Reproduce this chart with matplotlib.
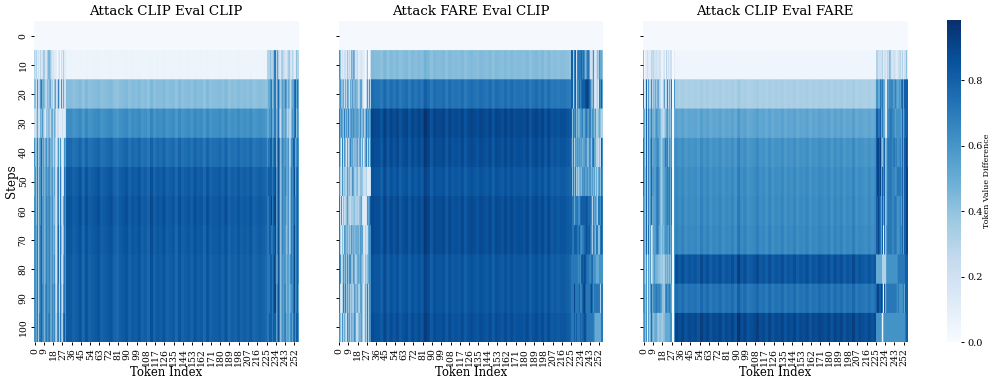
import numpy as np
import matplotlib
matplotlib.use("Agg")
import matplotlib.pyplot as plt

plt.rcParams['font.family'] = 'DejaVu Serif'

titles = ["Attack CLIP Eval CLIP", "Attack FARE Eval CLIP", "Attack CLIP Eval FARE"]
step_labels = [0, 10, 20, 30, 40, 50, 60, 70, 80, 90, 100]
token_ticks = list(range(0, 256, 9))

# level of the central token block (columns 31..224), one value per step row
mid_levels_a = [0.01, 0.05, 0.42, 0.62, 0.75, 0.81, 0.83, 0.82, 0.81, 0.81, 0.81]
mid_levels_b = [0.01, 0.42, 0.72, 0.87, 0.85, 0.82, 0.85, 0.85, 0.82, 0.82, 0.84]
mid_levels_c = [0.01, 0.04, 0.33, 0.52, 0.60, 0.62, 0.63, 0.64, 0.83, 0.72, 0.87]

# streak texture of the central block, read every 3 tokens (4 = neutral)
texture_a = "5534626345634563245635463427354634526345364526344536243534352343233"
texture_b = "6553736463563646497365563645463565465463654646455463564636343443233"
texture_c = "6463545374635463546394634574536354635463546354654636463547354353523"

# edge columns as digit strings: one digit per token, value = digit / 10
left_a = [
    "0000000000000000000000000000000",
    "3231213124312454312111012021311",
    "4426236745423527241362273162522",
    "2235225463215261462541221112112",
    "6447356846366375462531362621265",
    "5647366846466575473631572731276",
    "6647366856467576474531572732576",
    "6657367856467576474631582742476",
    "6657367856467576474731582732576",
    "6657367866477576475741672742676",
    "6657377866477586475742673743786",
]
right_a = [
    "0000000000000000000000000000000",
    "3334334772622143221234213211433",
    "4556745773684356467355245578575",
    "5566755774683256456243246578465",
    "6778867884796367566473366885676",
    "7888878895796367576473476795786",
    "7788978995796367575473476786786",
    "7788778895796367574473476796786",
    "7778878985696366574564676796786",
    "7778878995796366584564566796785",
    "7788878885796366585564675786886",
]
left_b = [
    "0000000000000000000000000000000",
    "6412122141316272131112111014002",
    "5644525264163726453256311026263",
    "7565474647366574656374463475656",
    "7417264161574626273471613572636",
    "6326343363524743353244422231112",
    "7261423463324344242446211116568",
    "7314265453537363646365621322566",
    "7623646373763473346465431434566",
    "7213747363625247264256412537366",
    "6426353274626357323546412537366",
]
right_b = [
    "0000000000000000000000000000000",
    "8837817777868547772217212436554",
    "8837827686888899987537212317685",
    "8476746456674677568466463345433",
    "7473656565646575367368553324286",
    "8474735355475747557464635356476",
    "8775777668888889787817565377687",
    "8778887786677889797727647744787",
    "7777777676988987776786665556666",
    "7779777786789977777986777777377",
    "7778787778788987777777655555577",
]
left_c = [
    "0000000000000000000000000000000",
    "4011211132312212210120312122001",
    "7128162371536173311262272537006",
    "5538274574546655533234564546005",
    "7538274684656675534557674656006",
    "7548274685656776534556676757006",
    "6548274684656776534556676757006",
    "6548283604656775535456665756006",
    "6536063604564544434335454546006",
    "6646063684767767664436766765006",
    "5646063584455534443445555566006",
]
right_c = [
    "0000000000000000000000000000000",
    "3322223122132531222112231312241",
    "6655767551175767657655657858888",
    "8877857551176777675666665857888",
    "8998954683577777686766675858898",
    "8998958683577777676677776858899",
    "8898758583577777677766675858899",
    "8898758083677777677766676858899",
    "5555553333666666666667777777888",
    "8998897094777777777767666675888",
    "6666650566666666666666666666788",
]


def build_matrix(left, right, levels, texture):
    rows = []
    for left_row, right_row, level in zip(left, right, levels):
        left_vals = [int(c) / 10 + 0.01 for c in left_row]
        right_vals = [int(c) / 10 + 0.01 for c in right_row]
        mid = []
        for t in range(194):
            offset = (int(texture[min(t // 3, len(texture) - 1)]) - 4) * 0.024
            mid.append(level + offset * level)
        rows.append(left_vals + mid + right_vals)
    return np.clip(np.array(rows), 0, 0.985)


panels = [
    build_matrix(left_a, right_a, mid_levels_a, texture_a),
    build_matrix(left_b, right_b, mid_levels_b, texture_b),
    build_matrix(left_c, right_c, mid_levels_c, texture_c),
]

W, H = 997, 385
fig = plt.figure(figsize=(W / 100, H / 100), dpi=100)
x_lefts = [34, 338.7, 643.3]
ax_w, top, bottom = 264, 21, 342

for i, (x0, data, title) in enumerate(zip(x_lefts, panels, titles)):
    ax = fig.add_axes([x0 / W, 1 - bottom / H, ax_w / W, (bottom - top) / H])
    # rows repeated so the smoothing acts across tokens and keeps step rows crisp
    im = ax.imshow(np.repeat(data, 29, axis=0), cmap="Blues", vmin=0, vmax=0.985,
                   aspect="auto", extent=[0, data.shape[1], data.shape[0], 0],
                   interpolation="hanning")
    for s in ax.spines.values():
        s.set_visible(False)
    ax.set_xticks([t + 0.5 for t in token_ticks])
    ax.set_xticklabels(token_ticks, rotation=90, fontsize=6.7)
    ax.set_yticks([r + 0.5 for r in range(len(step_labels))])
    if i == 0:
        ax.set_yticklabels(step_labels, rotation=90, va="center", fontsize=6.7)
        ax.set_ylabel("Steps", fontsize=8.6, labelpad=0.5)
    else:
        ax.set_yticklabels([])
    ax.tick_params(length=2.5, width=0.7, pad=2)
    ax.set_xlabel("Token Index", fontsize=8.4, labelpad=0)
    ax.set_title(title, fontsize=9.6, pad=4.5)

cax = fig.add_axes([947 / W, 1 - 342 / H, 14 / W, 322 / H])
cb = fig.colorbar(im, cax=cax)
cb.outline.set_visible(False)
cb.set_ticks([0.0, 0.2, 0.4, 0.6, 0.8])
cb.ax.tick_params(labelsize=7, length=2.5, width=0.7, pad=2)
cb.set_label("Token Value Difference", fontsize=5.8, labelpad=0)

fig.savefig("out.png", dpi=100)
